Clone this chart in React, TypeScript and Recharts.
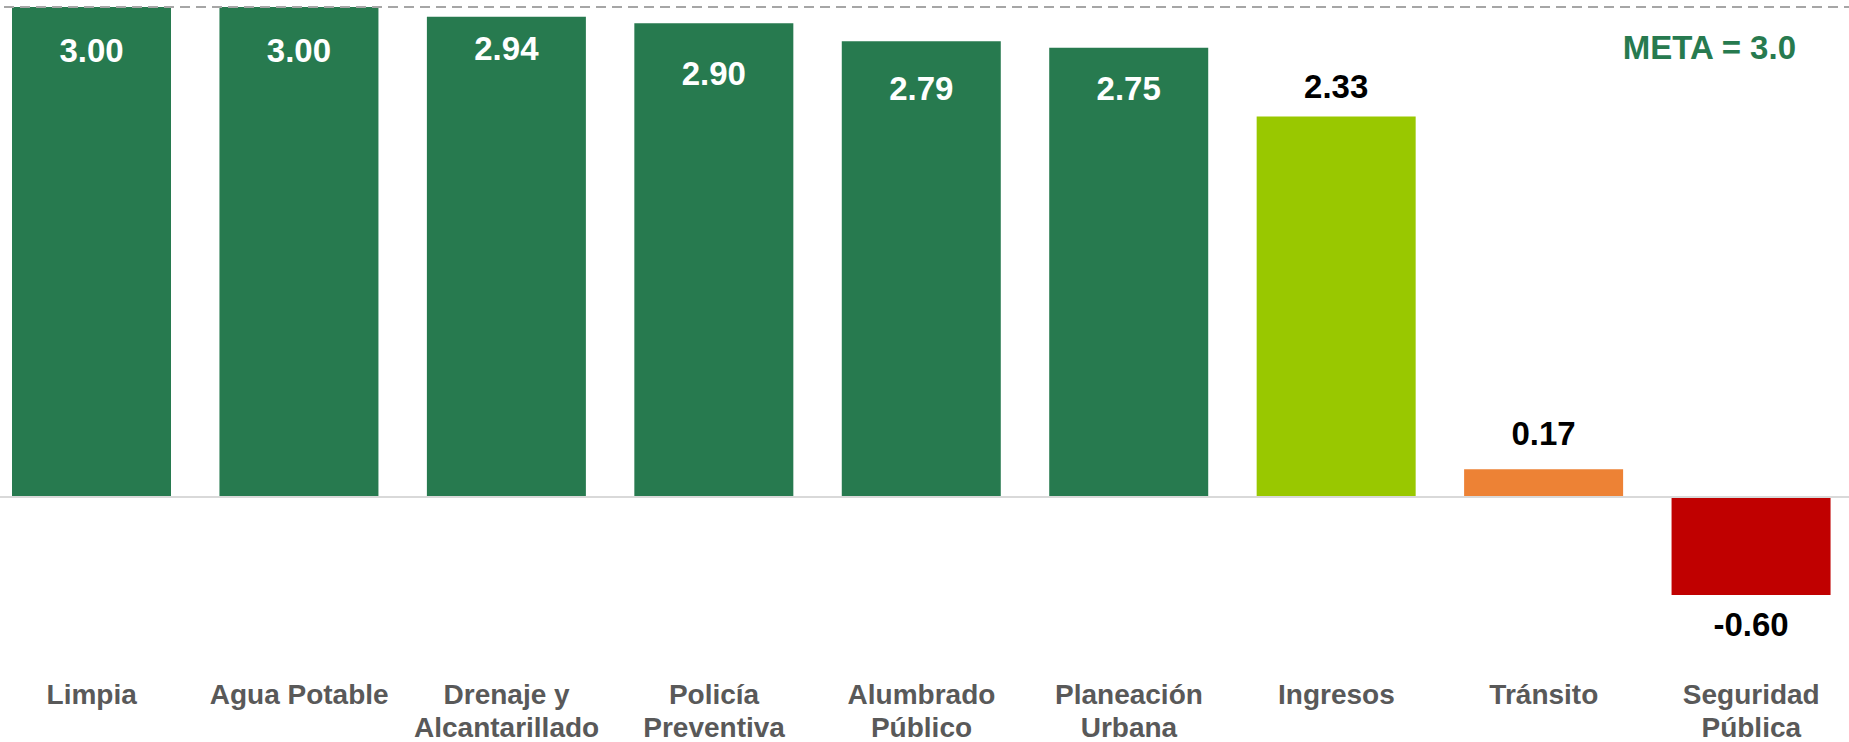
import React from 'react';
import { BarChart, Bar, XAxis, YAxis, Cell, LabelList, ReferenceLine } from 'recharts';

const categories = [
  'Limpia',
  'Agua Potable',
  'Drenaje y Alcantarillado',
  'Policía Preventiva',
  'Alumbrado Público',
  'Planeación Urbana',
  'Ingresos',
  'Tránsito',
  'Seguridad Pública',
];

const scores = [3.0, 3.0, 2.94, 2.9, 2.79, 2.75, 2.33, 0.17, -0.6];

const barColors = [
  '#277A4F', '#277A4F', '#277A4F', '#277A4F', '#277A4F', '#277A4F',
  '#99C800', '#ED8235', '#C00000',
];

// true = the value sits inside the bar in white
const labelInside = [true, true, true, true, true, true, false, false, false];
// distance from the bar end to the label centre (hand placed in the original)
const labelGap = [43, 43, 32, 50, 47, 41, 30, 36, 30];

const META = 3.0;

const FONT = '"Liberation Sans", Arial, sans-serif';

const data = categories.map((name, i) => ({ name, value: scores[i] }));

// greedy word wrap, about 12 characters per line
function wrap(text: string) {
  const words = text.split(' ');
  const lines: string[] = [];
  let cur = '';
  words.forEach((w) => {
    const next = cur ? cur + ' ' + w : w;
    if (next.length > 12 && cur) {
      lines.push(cur);
      cur = w;
    } else {
      cur = next;
    }
  });
  if (cur) lines.push(cur);
  return lines;
}

const CategoryTick = ({ x, y, payload }: any) => {
  const lines = wrap(payload.value);
  return (
    <text x={x} y={y} textAnchor="middle" fill="#595959" fontFamily={FONT} fontSize={28} fontWeight="bold">
      {lines.map((l, i) => (
        <tspan key={i} x={x} dy={i === 0 ? 36 : 33}>
          {l}
        </tspan>
      ))}
    </text>
  );
};

const ValueLabel = (props: any) => {
  const vb = props.viewBox || props;
  const { x, y, width, height } = vb;
  const index = props.index;
  const value = Number(props.value);
  const top = Math.min(y, y + height);
  const bottom = Math.max(y, y + height);
  const cx = x + width / 2;
  const half = 11.5;
  const gap = labelGap[index];
  let ty: number;
  let fill = '#000000';
  if (labelInside[index]) {
    ty = top + gap + half;
    fill = '#FFFFFF';
  } else if (value >= 0) {
    ty = top - gap + half;
  } else {
    ty = bottom + gap + half;
  }
  return (
    <text x={cx} y={ty} textAnchor="middle" fill={fill} fontFamily={FONT} fontSize={33} fontWeight="bold">
      {value.toFixed(2)}
    </text>
  );
};

const MetaLabel = ({ viewBox }: any) => {
  const right = viewBox.x + viewBox.width;
  return (
    <text x={right - 59} y={viewBox.y + 52} textAnchor="end" fill="#277A4F" fontFamily={FONT} fontSize={33} fontWeight="bold">
      META = 3.0
    </text>
  );
};

export default function App() {
  return (
    <div style={{ position: 'fixed', left: 0, top: 0, width: 1849, height: 742, overflow: 'hidden', background: '#fff' }}>
      <div style={{ position: 'absolute', left: -12, top: 0 }}>
        <BarChart
          width={1867}
          height={742}
          data={data}
          margin={{ top: 7, right: 0, bottom: 0, left: 0 }}
          barCategoryGap={24}
        >
          <XAxis
            dataKey="name"
            height={81.67}
            axisLine={false}
            tickLine={false}
            interval={0}
            tick={<CategoryTick />}
          />
          <YAxis hide domain={[-1, 3]} allowDataOverflow />
          <ReferenceLine y={0} stroke="#D9D9D9" strokeWidth={2} />
          <Bar dataKey="value" isAnimationActive={false}>
            {data.map((d, i) => (
              <Cell key={d.name} fill={barColors[i]} />
            ))}
            <LabelList dataKey="value" content={<ValueLabel />} />
          </Bar>
          <ReferenceLine
            y={META}
            stroke="#A6A6A6"
            strokeWidth={2}
            strokeDasharray="10 6"
            label={<MetaLabel />}
          />
        </BarChart>
      </div>
    </div>
  );
}
